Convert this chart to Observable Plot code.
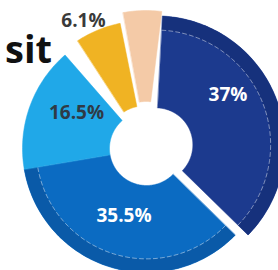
<!DOCTYPE html>
<html><head><meta charset="utf-8">
<script src="https://cdn.jsdelivr.net/npm/d3@7"></script>
<script src="https://cdn.jsdelivr.net/npm/@observablehq/plot@0.6"></script>
<style>
html,body{margin:0;padding:0;background:#fff;overflow:hidden}
#wrap{position:relative;width:278px;height:270px;overflow:hidden}
#title{position:absolute;right:226px;top:29px;font:700 38px "Open Sans",sans-serif;line-height:38px;color:#111;white-space:nowrap}
#chart{position:absolute;left:0;top:0}
</style></head><body>
<div id="wrap"><div id="title">sit</div><div id="chart"></div></div>
<script>
// data
const categories = ["s1","s2","s3","s4","s5"];
const values = [37, 35.5, 16.5, 6.1, 4.9];
const labels = ["37%","35.5%","16.5%","6.1%",""];

// styles / layout
const colors = ["#1c3a8e","#0b6bc2","#20a8e8","#f0b323","#f4caa7"];
const rimColors = ["#16317c","#0a5aa8",null,null,null];
const labelColors = ["#ffffff","#ffffff","#2f3a45","#3a3a3a",""];
const explode = [10, 0, 0, 6, 10];
const outerR = [129, 124, 124, 122, 128];
const innerR = 37;
const gapAfter = [0, 0, 8, 1, -4];   // degrees
const startDeg = 3;
const labelR = [87.5, 70.7, 78.7, 136.6, 0];
const labelDA = [-13.1, 1.2, 7.5, -4.2, 0];
const deg = Math.PI/180;

// angles from values
const k = (360 - d3.sum(gapAfter)) / d3.sum(values);
const arcs = [];
{ let a = startDeg;
  values.forEach((v,i)=>{ arcs.push({startAngle:a*deg, endAngle:(a+v*k)*deg}); a += v*k + gapAfter[i]; }); }

function center(i){
  const mid = (arcs[i].startAngle + arcs[i].endAngle)/2;
  return [explode[i]*Math.sin(mid), explode[i]*Math.cos(mid), mid];
}
function ring(i, r0, r1) {
  const a0 = arcs[i].startAngle, a1 = arcs[i].endAngle;
  const [ox, oy] = center(i);
  const n = Math.max(8, Math.ceil((a1-a0)/0.02));
  const pts = [];
  for (let j=0;j<=n;j++){const a=a0+(a1-a0)*j/n; pts.push({slice:categories[i], X:ox+r1*Math.sin(a), Y:oy+r1*Math.cos(a)});}
  for (let j=n;j>=0;j--){const a=a0+(a1-a0)*j/n; pts.push({slice:categories[i], X:ox+r0*Math.sin(a), Y:oy+r0*Math.cos(a)});}
  return pts;
}
function arcLine(i, r) {
  const a0 = arcs[i].startAngle, a1 = arcs[i].endAngle;
  const [ox, oy] = center(i);
  const n = Math.ceil((a1-a0)/0.02);
  const pts=[];
  for (let j=0;j<=n;j++){const a=a0+(a1-a0)*j/n; pts.push({X:ox+r*Math.sin(a), Y:oy+r*Math.cos(a)});}
  return pts;
}

const marks = [];
arcs.forEach((d,i)=>{
  marks.push(Plot.line(ring(i, innerR, outerR[i]), {x:"X", y:"Y", fill:colors[i], stroke:colors[i], strokeWidth:0.5, curve:"linear-closed"}));
  if (rimColors[i]) {
    marks.push(Plot.line(ring(i, outerR[i]*0.89, outerR[i]), {x:"X", y:"Y", fill:rimColors[i], stroke:"none", curve:"linear-closed"}));
    marks.push(Plot.line(arcLine(i, outerR[i]*0.89), {x:"X", y:"Y", stroke:"#ffffff", strokeOpacity:0.45, strokeWidth:1, strokeDasharray:"4,3"}));
  }
});

const labelData = arcs.map((d,i)=>{
  const [ox, oy, mid] = center(i);
  const a = mid + labelDA[i]*deg;
  return {label: labels[i], color: labelColors[i], X: ox + labelR[i]*Math.sin(a), Y: oy + labelR[i]*Math.cos(a)};
}).filter(d=>d.label);

marks.push(Plot.text(labelData, {x:"X", y:"Y", text:"label", fill:d=>d.color, fontSize:19, fontWeight:700, fontFamily:"Open Sans, sans-serif"}));

const chart = Plot.plot({
  width:278, height:270, margin:0,
  style:{background:"transparent"},
  x:{domain:[-146,132], axis:null},
  y:{domain:[-122,148], axis:null},
  marks
});
document.getElementById("chart").appendChild(chart);
</script>
</body></html>
